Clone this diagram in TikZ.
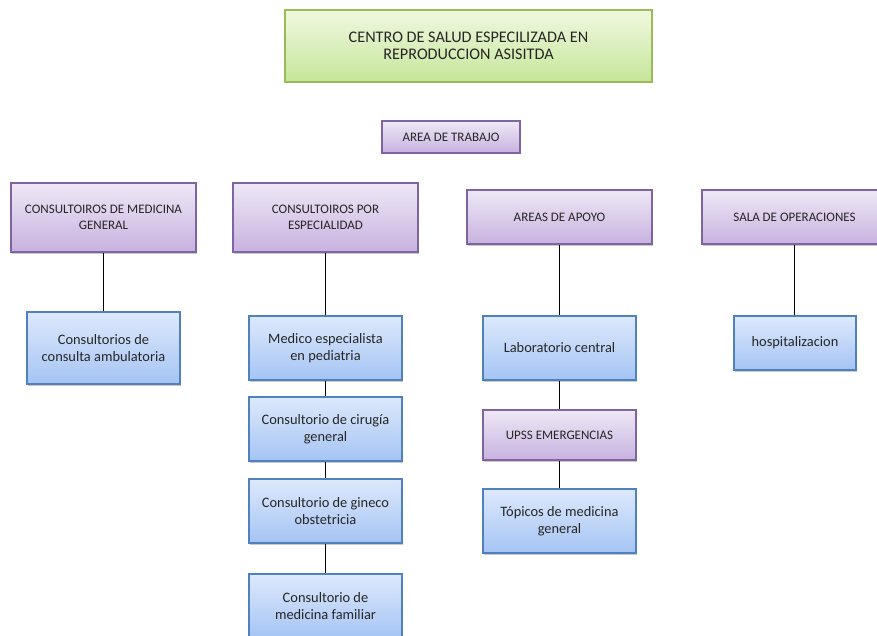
\documentclass[tikz,border=0pt]{standalone}
\usepackage{fontspec}
\setmainfont{Carlito}
\usetikzlibrary{shadows}
\definecolor{txt}{HTML}{262626}
\definecolor{pbord}{HTML}{8064A2}
\definecolor{ptop}{HTML}{EEE8F6}
\definecolor{pbot}{HTML}{C7B2DF}
\definecolor{bbord}{HTML}{4F81BD}
\definecolor{btop}{HTML}{DDE9FC}
\definecolor{bbot}{HTML}{A5C4F4}
\definecolor{gbord}{HTML}{9BBB59}
\definecolor{gtop}{HTML}{F0F8E0}
\definecolor{gbot}{HTML}{C6E69A}
\tikzset{
  boxbase/.style={rectangle, inner sep=0pt, align=center, text=txt, line width=1.1pt,
    drop shadow={shadow xshift=1.2pt, shadow yshift=-1.5pt, opacity=0.35, fill=black!60}},
  pbox/.style={boxbase, draw=pbord, top color=ptop, bottom color=pbot,
    font=\fontsize{13}{15.5}\selectfont},
  bbox/.style={boxbase, draw=bbord, top color=btop, bottom color=bbot,
    font=\fontsize{14.4}{17}\selectfont},
  gbox/.style={boxbase, draw=gbord, top color=gtop, bottom color=gbot,
    font=\fontsize{16.2}{17.5}\selectfont},
  conn/.style={draw=black, line width=1.3pt}
}
\begin{document}
\begin{tikzpicture}[x=1pt,y=-1pt]
\useasboundingbox (0,0) rectangle (877,636);
% title
\node[gbox, minimum width=367pt, minimum height=72pt] (title) at (468.5,46)
  {CENTRO DE SALUD ESPECILIZADA EN\\REPRODUCCION ASISITDA};
\node[pbox, minimum width=138pt, minimum height=32pt] (area) at (451,137) {AREA DE TRABAJO};
% second row
\node[pbox, minimum width=185pt, minimum height=69pt] (mg) at (103.5,217.5)
  {CONSULTOIROS DE MEDICINA\\GENERAL};
\node[pbox, minimum width=185pt, minimum height=69pt] (ce) at (325.5,217.5)
  {CONSULTOIROS POR\\ESPECIALIDAD};
\node[pbox, minimum width=185pt, minimum height=54pt] (aa) at (559.5,217)
  {AREAS DE APOYO};
\node[pbox, minimum width=185pt, minimum height=54pt] (so) at (794.5,217)
  {SALA DE OPERACIONES};
% column 1
\node[bbox, minimum width=153pt, minimum height=72pt] (cca) at (103.5,348)
  {Consultorios de\\consulta ambulatoria};
% column 2
\node[bbox, minimum width=153pt, minimum height=64pt] (ped) at (325.5,348)
  {Medico especialista\\en pediatria};
\node[bbox, minimum width=153pt, minimum height=64pt] (cir) at (325.5,429)
  {Consultorio de cirugía\\general};
\node[bbox, minimum width=153pt, minimum height=64pt] (gin) at (325.5,511)
  {Consultorio de gineco\\obstetricia};
\node[bbox, minimum width=153pt, minimum height=64pt] (fam) at (325.5,606)
  {Consultorio de\\medicina familiar};
% column 3
\node[bbox, minimum width=153pt, minimum height=64pt] (lab) at (559.5,348)
  {Laboratorio central};
\node[pbox, minimum width=153pt, minimum height=50pt] (upss) at (559.5,435)
  {UPSS EMERGENCIAS};
\node[bbox, minimum width=153pt, minimum height=64pt] (top) at (559.5,521)
  {Tópicos de medicina\\general};
% column 4
\node[bbox, minimum width=122pt, minimum height=54pt] (hos) at (795,343)
  {hospitalizacion};
% connectors
\draw[conn] (mg.south) -- (cca.north);
\draw[conn] (ce.south) -- (ped.north);
\draw[conn] (ped.south) -- (cir.north);
\draw[conn] (cir.south) -- (gin.north);
\draw[conn] (gin.south) -- (fam.north);
\draw[conn] (aa.south) -- (lab.north);
\draw[conn] (lab.south) -- (upss.north);
\draw[conn] (upss.south) -- (top.north);
\draw[conn] (so.south) -- (so.south |- hos.north);
\end{tikzpicture}
\end{document}
